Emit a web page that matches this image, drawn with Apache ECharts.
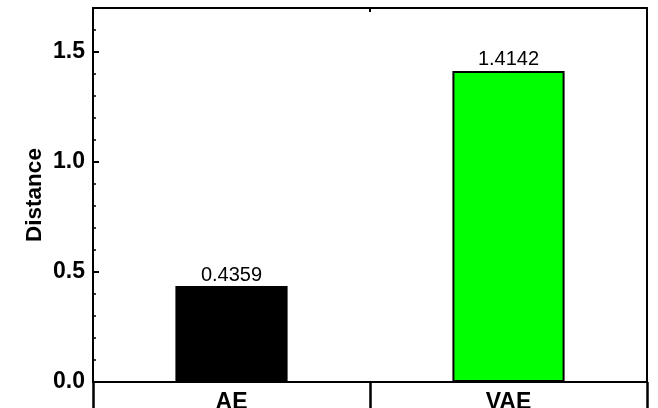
<!DOCTYPE html>
<html>
<head>
<meta charset="utf-8">
<script src="https://cdn.jsdelivr.net/npm/echarts@6/dist/echarts.min.js"></script>
<style>
  html, body { margin: 0; padding: 0; background: #fff; }
  #chart { width: 658px; height: 408px; }
</style>
</head>
<body>
<div id="chart"></div>
<script>
// Model names and their distances
const categories = ['AE', 'VAE'];
const distances = [0.4359, 1.4142];
const barColors = ['#000000', '#00ff00'];
const yAxisName = 'Distance';

const FONT = 'Liberation Sans, Arial, sans-serif';
const LINE = { color: '#000', width: 2 };

const chart = echarts.init(document.getElementById('chart'), null, { renderer: 'canvas' });

chart.setOption({
  animation: false,
  backgroundColor: '#ffffff',
  grid: {
    left: 93, right: 11, top: 8, bottom: 26,
    containLabel: false,
    outerBoundsMode: 'none'
  },
  xAxis: [
    {
      type: 'category',
      data: categories,
      position: 'bottom',
      boundaryGap: true,
      axisLine: { show: true, onZero: false, lineStyle: LINE },
      axisTick: { show: true, alignWithLabel: false, inside: false, length: 30, lineStyle: { color: '#000', width: 2.5 } },
      axisLabel: { show: true, margin: 9, color: '#000', fontSize: 23, fontWeight: 'bold', fontFamily: FONT },
      splitLine: { show: false }
    },
    {
      type: 'category',
      data: categories,
      position: 'top',
      boundaryGap: true,
      axisLine: { show: true, onZero: false, lineStyle: LINE },
      axisTick: { show: true, alignWithLabel: false, inside: true, length: 4, lineStyle: { color: '#000', width: 2 } },
      axisLabel: { show: false },
      splitLine: { show: false }
    }
  ],
  yAxis: [
    {
      // minor ticks every 0.1
      type: 'value',
      position: 'left',
      min: 0, max: 1.7, interval: 0.1,
      axisLine: { show: true, onZero: false, lineStyle: LINE },
      axisTick: { show: true, inside: true, length: 3, lineStyle: { color: '#000', width: 1.5 } },
      axisLabel: { show: false },
      splitLine: { show: false }
    },
    {
      // major ticks and labels every 0.5
      type: 'value',
      position: 'left',
      min: 0, max: 1.7, interval: 0.5,
      name: yAxisName,
      nameLocation: 'middle',
      nameGap: 47,
      nameMoveOverlap: false,
      nameTextStyle: { color: '#000', fontSize: 22.5, fontWeight: 'bold', fontFamily: FONT },
      axisLine: { show: true, onZero: false, lineStyle: LINE },
      axisTick: { show: true, inside: true, length: 6, lineStyle: { color: '#000', width: 2 } },
      axisLabel: {
        show: true, margin: 8, color: '#000', fontSize: 23, fontWeight: 'bold', fontFamily: FONT,
        showMaxLabel: false,
        formatter: v => v.toFixed(1)
      },
      splitLine: { show: false }
    },
    {
      // right frame edge
      type: 'value',
      position: 'right',
      min: 0, max: 1.7, interval: 0.5,
      axisLine: { show: true, onZero: false, lineStyle: LINE },
      axisTick: { show: false },
      axisLabel: { show: false },
      splitLine: { show: false }
    }
  ],
  series: [
    {
      type: 'bar',
      xAxisIndex: 0,
      yAxisIndex: 1,
      barWidth: '40.5%',
      data: distances.map((v, i) => ({
        value: v,
        itemStyle: { color: barColors[i], borderColor: '#000', borderWidth: 2 }
      })),
      label: {
        show: true,
        position: 'top',
        distance: 1,
        color: '#000',
        fontSize: 20,
        fontFamily: FONT,
        formatter: p => p.value.toFixed(4)
      }
    }
  ]
});
</script>
</body>
</html>
